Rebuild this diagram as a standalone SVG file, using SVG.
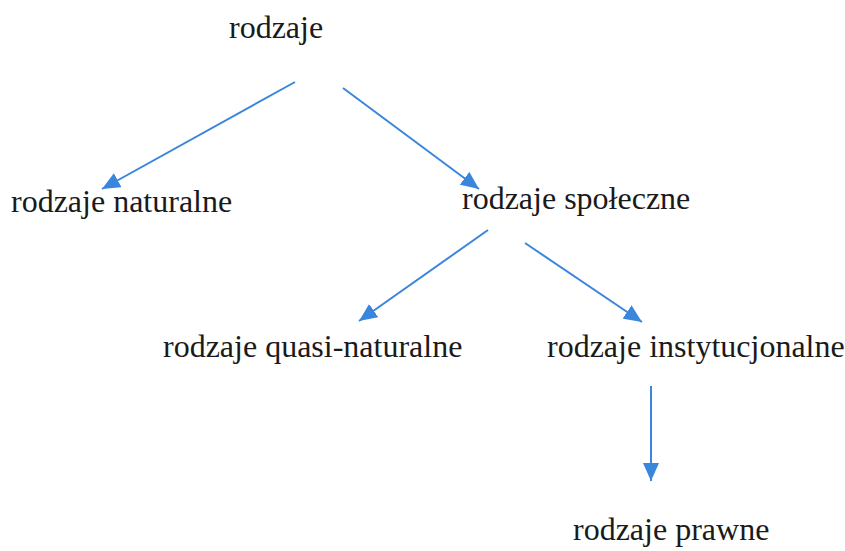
<svg xmlns="http://www.w3.org/2000/svg" width="845" height="551" viewBox="0 0 845 551">
<defs>
<marker id="ah" viewBox="0 0 10 10" refX="10" refY="5" markerWidth="10" markerHeight="10" markerUnits="userSpaceOnUse" orient="auto">
<path d="M0,0 L10,5 L0,10 z" fill="#3b86dd"/>
</marker>
<marker id="ah2" viewBox="0 0 18 16" refX="18" refY="8" markerWidth="18" markerHeight="16" markerUnits="userSpaceOnUse" orient="auto">
<path d="M0,0 L18,8 L0,16 z" fill="#3b86dd"/>
</marker>
</defs>
<style>
.t{font-family:"Liberation Serif","Times New Roman",serif;font-size:32px;fill:#1a1a1a}
.c{stroke:#3b86dd;stroke-width:2;fill:none;marker-end:url(#ah2)}
</style>
<rect width="845" height="551" fill="#fff"/>
<g id="connectors">
<line class="c" x1="295" y1="82" x2="102" y2="189"/>
<line class="c" x1="343" y1="88" x2="479" y2="189"/>
<line class="c" x1="488" y1="230" x2="359" y2="321"/>
<line class="c" x1="525" y1="243" x2="642" y2="322"/>
<line class="c" x1="651" y1="386" x2="651" y2="481"/>
</g>
<g id="n-rodzaje"><text class="t" x="229" y="38">rodzaje</text></g>
<g id="n-naturalne"><text class="t" x="11" y="212">rodzaje naturalne</text></g>
<g id="n-spoleczne"><text class="t" x="462" y="209">rodzaje społeczne</text></g>
<g id="n-quasi"><text class="t" x="163" y="357">rodzaje quasi-naturalne</text></g>
<g id="n-instytucjonalne"><text class="t" x="547" y="357">rodzaje instytucjonalne</text></g>
<g id="n-prawne"><text class="t" x="573" y="540">rodzaje prawne</text></g>
</svg>
